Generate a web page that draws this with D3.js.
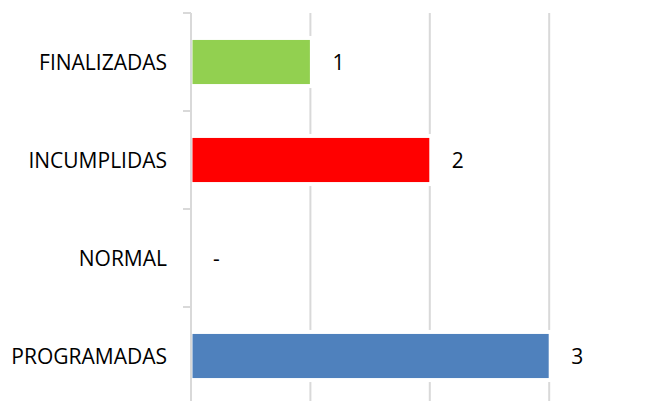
<!DOCTYPE html>
<html>
<head>
<meta charset="utf-8">
<script src="https://cdn.jsdelivr.net/npm/d3@7"></script>
<style>
  body { margin: 0; background: #fff; }
  text { font-family: "Open Sans", "Noto Sans", sans-serif; fill: #000; }
</style>
</head>
<body>
<div id="chart"></div>
<script>
// Estado de actividades - barras horizontales
const categories = ["FINALIZADAS", "INCUMPLIDAS", "NORMAL", "PROGRAMADAS"];
const values = [1, 2, 0, 3];
const colors = ["#92d050", "#ff0000", "#4f81bd", "#4f81bd"];
const gridTicks = [1, 2, 3];

const width = 661, height = 401;
const x0 = 191, yTop = 13, yBottom = 405;

const svg = d3.select('#chart')
    .append('svg')
    .attr('width', width)
    .attr('height', height);

const x = d3.scaleLinear()
    .domain([0, 3])
    .range([x0, x0 + 3 * 119.4]);

const y = d3.scaleBand()
    .domain(categories)
    .range([yTop, yBottom])
    .paddingInner(0.55)
    .paddingOuter(0.275);

// vertical gridlines
svg.append('g')
    .selectAll('line')
    .data(gridTicks)
    .join('line')
    .attr('x1', d => x(d)).attr('x2', d => x(d))
    .attr('y1', yTop).attr('y2', height)
    .style('stroke', '#d9d9d9')
    .style('stroke-width', 2);

// category axis
const axis = svg.append('g')
    .attr('transform', `translate(${x0},0)`);
axis.append('line')
    .attr('y1', yTop).attr('y2', height)
    .style('stroke', '#d9d9d9')
    .style('stroke-width', 2);
const step = y.step();
axis.selectAll('line.tick')
    .data(d3.range(categories.length + 1))
    .join('line')
    .attr('class', 'tick')
    .attr('x1', -8).attr('x2', 0)
    .attr('y1', i => yTop + i * step).attr('y2', i => yTop + i * step)
    .style('stroke', '#d9d9d9')
    .style('stroke-width', 2);
axis.selectAll('text')
    .data(categories)
    .join('text')
    .attr('x', -24)
    .attr('y', d => y(d) + y.bandwidth() / 2)
    .attr('dy', '0.36em')
    .attr('text-anchor', 'end')
    .style('font-size', '21px')
    .text(d => d);

// bars (white halo breaks the gridlines like the original)
const rows = categories.map((c, i) => ({c, v: values[i], color: colors[i]}));
const bars = svg.append('g');
bars.selectAll('rect.halo')
    .data(rows.filter(d => d.v > 0))
    .join('rect')
    .attr('class', 'halo')
    .attr('x', x(0) + 1)
    .attr('y', d => y(d.c) - 4)
    .attr('width', d => x(d.v) - x(0) + 2)
    .attr('height', y.bandwidth() + 8)
    .style('fill', '#fff');
bars.selectAll('rect.bar')
    .data(rows.filter(d => d.v > 0))
    .join('rect')
    .attr('class', 'bar')
    .attr('x', x(0) + 1.5)
    .attr('y', d => y(d.c))
    .attr('width', d => x(d.v) - x(0) - 2)
    .attr('height', y.bandwidth())
    .style('fill', d => d.color);

// value labels
svg.append('g')
    .selectAll('text')
    .data(rows)
    .join('text')
    .attr('x', d => x(d.v) + 22)
    .attr('y', d => y(d.c) + y.bandwidth() / 2)
    .attr('dy', '0.36em')
    .style('font-size', '21px')
    .text(d => d.v === 0 ? '-' : d.v);
</script>
</body>
</html>
